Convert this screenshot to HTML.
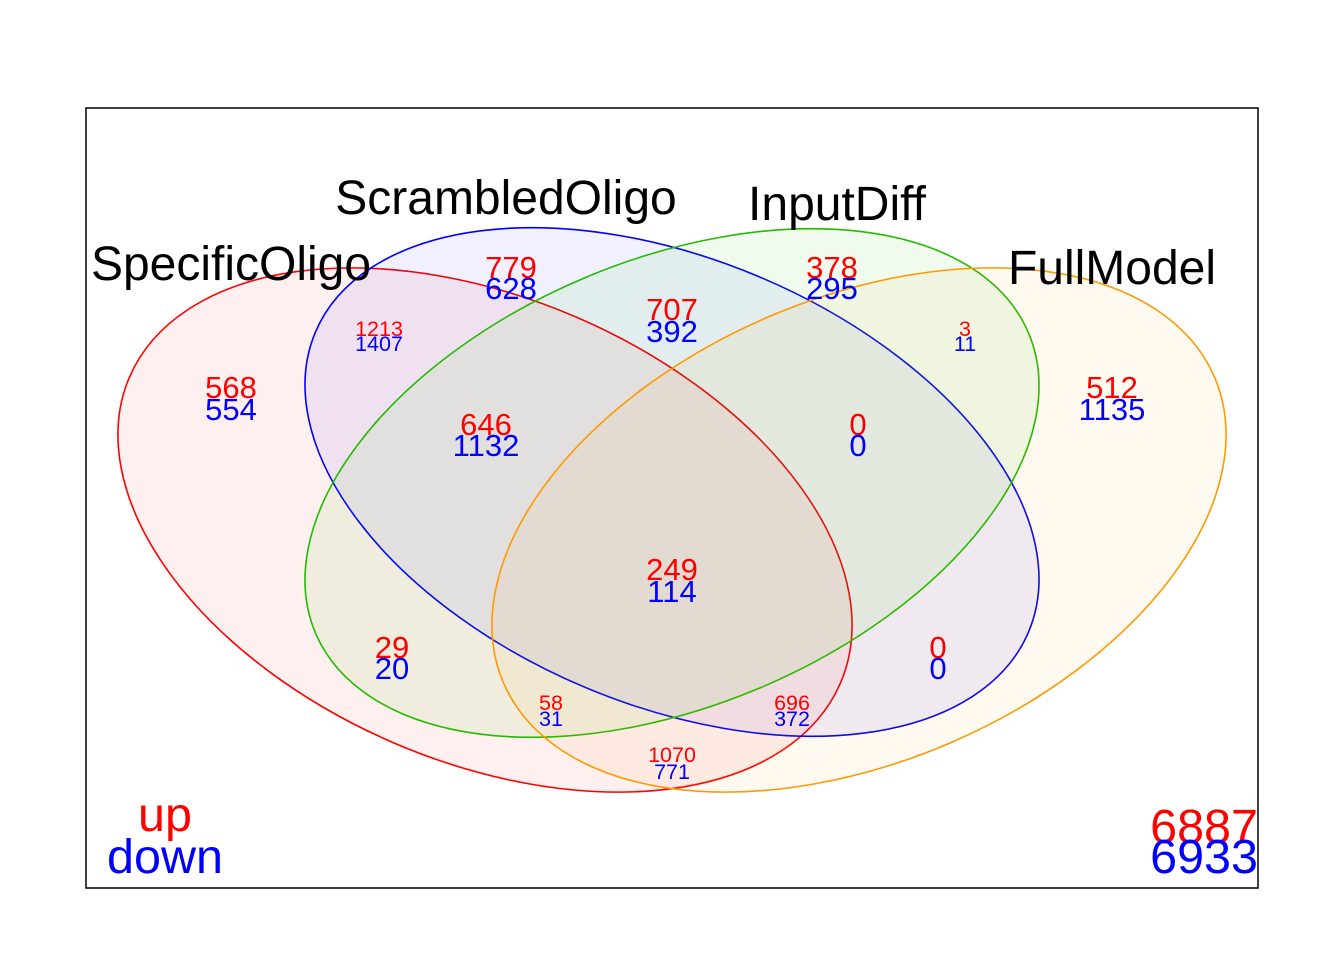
<!DOCTYPE html>
<html><head><meta charset="utf-8"><style>
html,body{margin:0;padding:0;background:#fff;}
svg{display:block;font-family:"Liberation Sans",Arial,sans-serif;}
</style></head><body>
<svg id="venn" width="1344" height="960" viewBox="0 0 1344 960" xmlns="http://www.w3.org/2000/svg">
<rect x="86" y="108" width="1172" height="780" fill="none" stroke="#000" stroke-width="1.5"/>
<g id="ellipses"></g>
<g id="setlabels"></g>
<g id="counts"></g>
<text x="165" y="831" font-size="48.5" fill="#ff0000" text-anchor="middle">up</text>
<text x="165" y="873" font-size="48.5" fill="#0000ff" text-anchor="middle">down</text>
<text x="1258" y="843" font-size="48.5" fill="#ff0000" text-anchor="end">6887</text>
<text x="1258" y="873" font-size="48.5" fill="#0000ff" text-anchor="end">6933</text>
</svg>
<script>
const setNames = ["SpecificOligo","ScrambledOligo","InputDiff","FullModel"];
const regionNames = ["S only","Sc only","S&Sc","Sc&I","I only","I&F","F only","S&Sc&I","Sc&I&F","all","S&I","Sc&F","S&I&F","S&Sc&F","S&F"];
const upCounts   = [568,779,1213,707,378,3,512,646,0,249,29,0,58,696,1070];
const downCounts = [554,628,1407,392,295,11,1135,1132,0,114,20,0,31,372,771];

const NS="http://www.w3.org/2000/svg";
const ell=[
 {cx:485,cy:530,a:387,b:231.6,rot:23.3,stroke:"#ff0000",fill:"rgba(255,0,0,0.06)"},
 {cx:672,cy:482,a:386.8,b:223,rot:22.75,stroke:"#0000ff",fill:"rgba(0,0,255,0.06)"},
 {cx:672,cy:483,a:386.8,b:223,rot:-22.75,stroke:"#22bb00",fill:"rgba(40,200,0,0.07)"},
 {cx:859,cy:530,a:387,b:231.6,rot:-23.3,stroke:"#ff9900",fill:"rgba(255,150,0,0.06)"}
];
const labelPos=[[231,280],[506,214],[837,220],[1112,284]];
const eg=document.getElementById('ellipses');
ell.forEach((e,i)=>{
 const el=document.createElementNS(NS,'ellipse');
 el.setAttribute('cx',e.cx);el.setAttribute('cy',e.cy);el.setAttribute('rx',e.a);el.setAttribute('ry',e.b);
 el.setAttribute('transform',`rotate(${e.rot} ${e.cx} ${e.cy})`);
 el.setAttribute('fill',e.fill);el.setAttribute('stroke',e.stroke);el.setAttribute('stroke-width','1.6');
 
 
 eg.appendChild(el);
});
const lg=document.getElementById('setlabels');
setNames.forEach((n,i)=>{
 const t=document.createElementNS(NS,'text');
 t.setAttribute('x',labelPos[i][0]);t.setAttribute('y',labelPos[i][1]);
 t.setAttribute('font-size','48');t.setAttribute('text-anchor','middle');t.textContent=n;
 
 
 lg.appendChild(t);
});
const rpos=[[231,398,420,31],[511,278,299,31],[379,336,351,21.5],[672,320,342,31],[832,278,299,31],[965,336,351,21.5],[1112,398,420,31],[486,435,456,31],[858,435,456,31],[672,580,602,31],[392,658,679,31],[938,658,679,31],[551,710,726,21.5],[792,710,726,21.5],[672,762,779,21.5]];
const cg=document.getElementById('counts');
upCounts.forEach((v,i)=>{
 const p=rpos[i];
 const t=document.createElementNS(NS,'text');
 t.setAttribute('x',p[0]);t.setAttribute('y',p[1]);t.setAttribute('font-size',p[3]);
 t.setAttribute('fill','#ff0000');t.setAttribute('text-anchor','middle');t.textContent=v;
 
 
 cg.appendChild(t);
 const d=document.createElementNS(NS,'text');
 d.setAttribute('x',p[0]);d.setAttribute('y',p[2]);d.setAttribute('font-size',p[3]);
 d.setAttribute('fill','#0000ff');d.setAttribute('text-anchor','middle');d.textContent=downCounts[i];
 
 
 cg.appendChild(d);
});
</script>
</body></html>
